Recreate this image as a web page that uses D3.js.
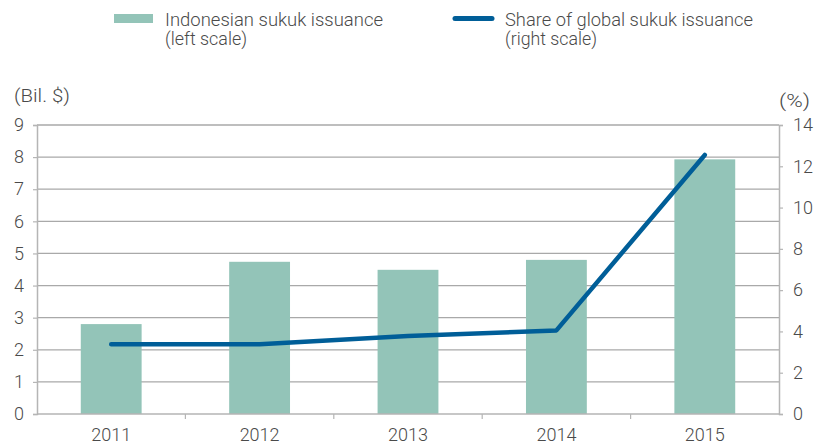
<!DOCTYPE html>
<html><head><meta charset="utf-8">
<script src="https://cdn.jsdelivr.net/npm/d3@7"></script>
<style>body{margin:0;background:#fff}svg{display:block}text{font-family:Roboto,"Liberation Sans",sans-serif;fill:#4a4a4a;font-weight:300}</style>
</head><body><svg id="c" width="830" height="444"></svg>
<script>
const years = ["2011","2012","2013","2014","2015"];
const issuance = [2.80, 4.74, 4.49, 4.80, 7.93];
const share = [3.38, 3.38, 3.78, 4.05, 12.55];
const leftTicks = [0,1,2,3,4,5,6,7,8,9];
const rightTicks = [0,2,4,6,8,10,12,14];

const svg = d3.select("#c");
const L = 37, R = 779, T = 125, B = 414;
const x = d3.scaleBand().domain(years).range([L, R]).paddingInner(0).paddingOuter(0);
const yL = d3.scaleLinear().domain([0, 9]).range([B, T]);
const yR = d3.scaleLinear().domain([0, 14]).range([B, T]);
const barW = x.step() * 0.41;

// gridlines
svg.append("g").selectAll("line").data(leftTicks.filter(d => d > 0)).join("line")
  .attr("x1", L).attr("x2", R).attr("y1", d => yL(d)).attr("y2", d => yL(d))
  .attr("stroke", "#a9a9a9").attr("stroke-width", 1.3);

// bars
svg.append("g").selectAll("rect").data(years).join("rect")
  .attr("x", d => x(d) + x.bandwidth() / 2 - barW / 2)
  .attr("width", barW)
  .attr("y", (d, i) => yL(issuance[i]))
  .attr("height", (d, i) => B - yL(issuance[i]))
  .attr("fill", "#93c4b8");

// axes
const gL = svg.append("g").attr("transform", `translate(${L},0)`)
  .call(d3.axisLeft(yL).tickValues(leftTicks).tickSize(4).tickPadding(9));
const gR = svg.append("g").attr("transform", `translate(${R},0)`)
  .call(d3.axisRight(yR).tickValues(rightTicks).tickSize(4).tickPadding(10));
const gX = svg.append("g").attr("transform", `translate(0,${B})`)
  .call(d3.axisBottom(x).tickSize(0).tickPadding(14));
[gL, gR, gX].forEach(g => {
  g.select(".domain").attr("stroke", "#b5b5b5").attr("stroke-width", 1.5);
  g.selectAll(".tick line").attr("stroke", "#b5b5b5").attr("stroke-width", 1.2);
  g.selectAll("text").attr("font-size", 18).attr("fill", "#4a4a4a").style("font-family", "Roboto, sans-serif").style("font-weight", 300);
});
gX.select(".domain").attr("d", `M${L},0H${R}`);
// category separator ticks
svg.append("g").selectAll("line").data(years.slice(1)).join("line")
  .attr("x1", d => x(d)).attr("x2", d => x(d)).attr("y1", B).attr("y2", B + 5)
  .attr("stroke", "#b5b5b5").attr("stroke-width", 1.2);

// line
const line = d3.line().x((d, i) => x(years[i]) + x.bandwidth() / 2).y(d => yR(d));
svg.append("path").datum(share).attr("d", line).attr("fill", "none")
  .attr("stroke", "#005e98").attr("stroke-width", 4.5).attr("stroke-linecap", "round").attr("stroke-linejoin", "round");

// axis titles
svg.append("text").attr("x", 14).attr("y", 102).attr("font-size", 18)
  .attr("textLength", 56).attr("lengthAdjust", "spacingAndGlyphs").text("(Bil. $)");
svg.append("text").attr("x", 779).attr("y", 107).attr("font-size", 18)
  .attr("textLength", 31).attr("lengthAdjust", "spacingAndGlyphs").text("(%)");

// legend
svg.append("rect").attr("x", 114).attr("y", 14).attr("width", 39).attr("height", 9).attr("fill", "#93c4b8");
svg.append("line").attr("x1", 455).attr("x2", 492).attr("y1", 18.5).attr("y2", 18.5)
  .attr("stroke", "#005e98").attr("stroke-width", 5).attr("stroke-linecap", "round");
const leg = [
  {x: 165, y: 26, t: "Indonesian sukuk issuance", w: 218},
  {x: 165, y: 45, t: "(left scale)", w: 82},
  {x: 505, y: 26, t: "Share of global sukuk issuance", w: 248},
  {x: 505, y: 45, t: "(right scale)", w: 92}
];
svg.append("g").selectAll("text").data(leg).join("text")
  .attr("x", d => d.x).attr("y", d => d.y).attr("font-size", 18)
  .attr("textLength", d => d.w).attr("lengthAdjust", "spacingAndGlyphs")
  .text(d => d.t);
</script></body></html>
